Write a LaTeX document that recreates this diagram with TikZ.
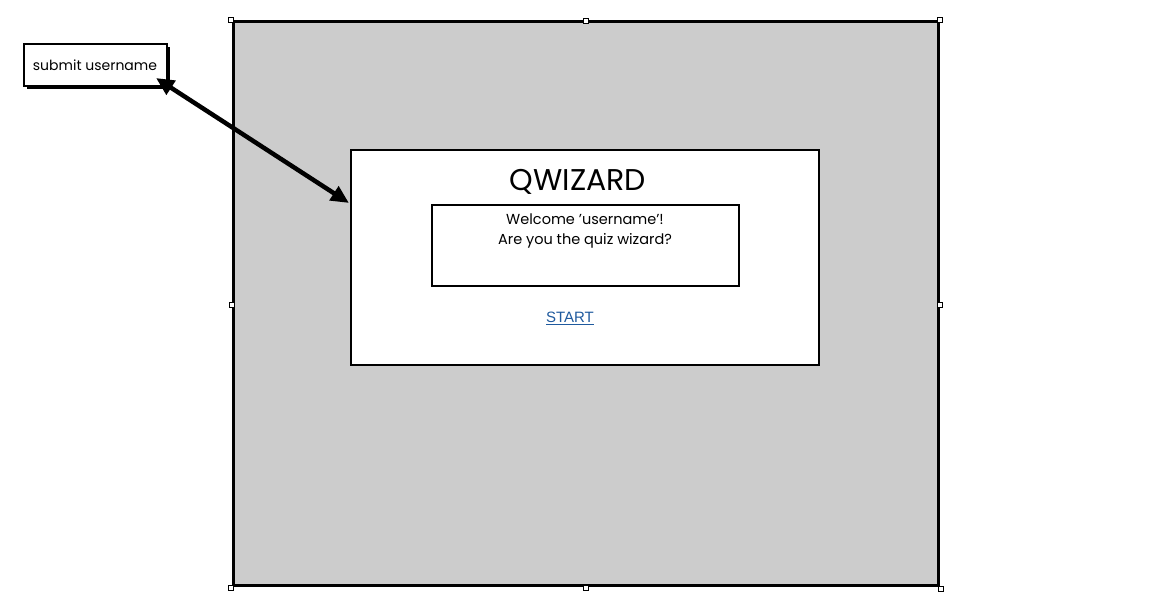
\documentclass[tikz,border=0pt]{standalone}
\usepackage{fontspec}
\setmainfont{Poppins}
\newfontfamily\linkfont{Liberation Sans}
\usetikzlibrary{arrows.meta}
\definecolor{panelgray}{HTML}{CCCCCC}
\definecolor{linkblue}{HTML}{1F5A9E}
\newcommand{\sq}{{\char"0027}}
\tikzset{
  handle/.style={draw=black, fill=white, line width=0.8pt, minimum size=5pt, inner sep=0pt},
  frame/.style={draw=black, line width=3pt},
  card/.style={draw=black, line width=2pt, fill=white},
  lbl/.style={font=\fontsize{14}{17}\selectfont, align=center},
  headtip/.tip={Triangle[length=18pt,width=16pt]},
}
\begin{document}
\begin{tikzpicture}[x=1pt,y=-1pt]
\useasboundingbox (0,0) rectangle (1175,610);
% outer panel
\draw[frame, fill=panelgray] (233,22) rectangle (938,585);
% handles
\foreach \p/\n in {{(231,20)}/h1,{(586,21)}/h2,{(940,20)}/h3,{(232,305)}/h4,{(940,305)}/h5,{(231,588)}/h6,{(586,588)}/h7,{(941,589)}/h8}
  \node[handle] (\n) at \p {};
% inner card
\node[card, minimum width=468pt, minimum height=215pt, inner sep=0pt] (card) at (585,257.5) {};
\node[font=\fontsize{30}{34}\selectfont] (title) at (578,181.5) {QWIZARD};
\node[draw=black, line width=2pt, fill=white, minimum width=307pt, minimum height=81pt, inner sep=0pt] (msgbox) at (585.5,245.5) {};
\node[lbl, font=\fontsize{14.5}{20}\selectfont, anchor=north] (msg) at (585,210) {Welcome \sq username\sq!\\Are you the quiz wizard?};
\node[font=\linkfont\fontsize{15}{18}\selectfont, text=linkblue] (start) at (570,318) {\underline{START}};
% submit username box with shadow
\fill[black] (27,47) rectangle (170,89);
\node[draw=black, line width=2pt, fill=white, minimum width=143pt, minimum height=42pt, inner sep=0pt] (submit) at (95.5,65) {};
\node[lbl] (submittext) at (95,65) {submit username};
\coordinate (arrS) at (156,78);
\coordinate (arrE) at (349,203);
\draw[line width=4.5pt, headtip-headtip] (arrS) -- (arrE);
\end{tikzpicture}
\end{document}
